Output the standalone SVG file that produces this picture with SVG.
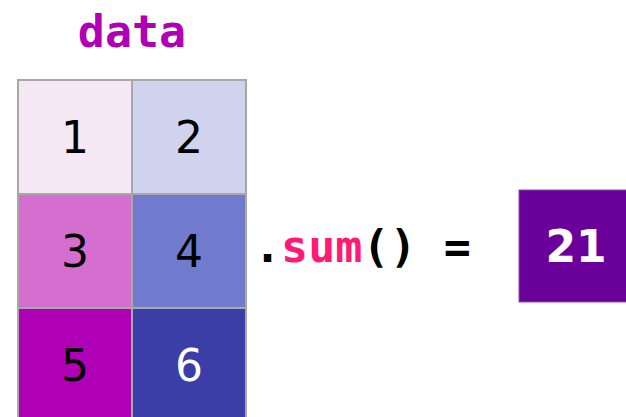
<svg xmlns="http://www.w3.org/2000/svg" width="626" height="417" viewBox="0 0 626 417">
<style>
.cell{stroke:#a8a8a8;stroke-width:2}
.num{font-family:"DejaVu Sans",sans-serif;font-size:44px;text-anchor:middle}
.mono{font-family:"DejaVu Sans Mono",monospace;font-weight:bold;font-size:45px}
</style>
<rect width="626" height="417" fill="#ffffff"/>
<text x="132" y="47" class="mono" fill="#b000b5" text-anchor="middle">data</text>
<g id="grid">
<g id="c1"><rect class="cell" x="18" y="80" width="114" height="114" fill="#f6e7f5"/><text class="num" x="75" y="153" fill="#000">1</text></g>
<g id="c2"><rect class="cell" x="132" y="80" width="114" height="114" fill="#cfd3ed"/><text class="num" x="189" y="153" fill="#000">2</text></g>
<g id="c3"><rect class="cell" x="18" y="194" width="114" height="114" fill="#d46ecf"/><text class="num" x="75" y="267" fill="#000">3</text></g>
<g id="c4"><rect class="cell" x="132" y="194" width="114" height="114" fill="#717bcd"/><text class="num" x="189" y="267" fill="#000">4</text></g>
<g id="c5"><rect class="cell" x="18" y="308" width="114" height="114" fill="#b000b5"/><text class="num" x="75" y="381" fill="#000">5</text></g>
<g id="c6"><rect class="cell" x="132" y="308" width="114" height="114" fill="#3a3ea6"/><text class="num" x="189" y="381" fill="#ffffff">6</text></g>
</g>
<text x="254" y="262" class="mono" fill="#000">.<tspan fill="#ff1a75">sum</tspan>() =</text>
<g id="result"><rect x="519" y="190" width="112" height="112" fill="#6a0099" stroke="#8a50b0" stroke-width="1"/><text x="576" y="262" font-family="DejaVu Sans,sans-serif" font-weight="bold" font-size="44" fill="#ffffff" text-anchor="middle">21</text></g>
<g id="connectors"/>
</svg>
